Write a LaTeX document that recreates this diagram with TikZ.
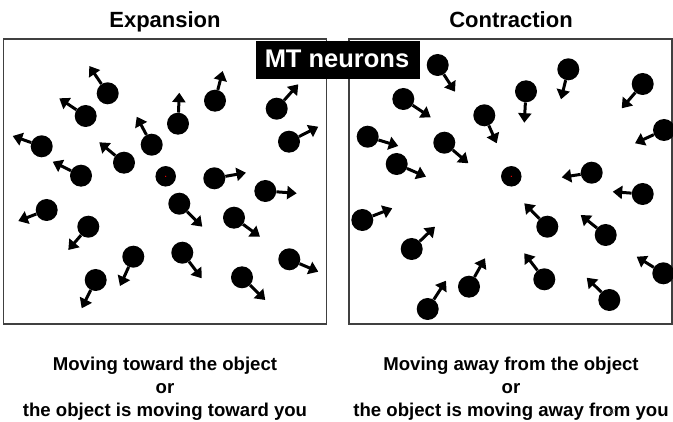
\documentclass[tikz,border=0pt]{standalone}
\usepackage{fontspec}
\setmainfont{Liberation Sans}
\usetikzlibrary{arrows.meta}
\newcommand\motdot[5]{%
  \node[dotnode] (#1) at (#2,#3) {};
  \coordinate (#1t) at (#4,#5);
  \draw[motion] (#1) -- (#1t);}
\begin{document}
\begin{tikzpicture}[x=1pt,y=-1pt,
  dotnode/.style={circle,fill=black,inner sep=0pt,minimum size=22pt},
  fixdot/.style={circle,fill=black,inner sep=0pt,minimum size=20.5pt},
  motion/.style={line width=3pt,-{Triangle[length=9.5pt,width=13pt]}},
  panel/.style={draw=black!75,line width=1.3pt},
  title/.style={font=\fontsize{22}{26}\selectfont\bfseries,anchor=base,inner sep=0pt},
  caption/.style={font=\fontsize{18.6}{23}\selectfont\bfseries,anchor=base,inner sep=0pt},
  label/.style={fill=black,text=white,font=\fontsize{25}{28}\selectfont\bfseries,inner sep=0pt,minimum width=164pt,minimum height=38pt}]
\useasboundingbox (0,0) rectangle (673,422);
\fill[white] (0,0) rectangle (673,422);
% titles
\node[title] (t1) at (165,28) {Expansion};
\node[title] (t2) at (511,28) {Contraction};
% panels
\node[panel,inner sep=0pt,minimum width=323.4pt,minimum height=285pt] (p1) at (165,181.5) {};
\node[panel,inner sep=0pt,minimum width=323pt,minimum height=285pt] (p2) at (510.5,181.5) {};
% ---- expansion dots
\motdot{a1}{107.7}{93.3}{89.3}{66}
\motdot{a2}{85.7}{116}{59.3}{98.3}
\motdot{a3}{41.7}{146.3}{12.7}{136}
\motdot{a4}{81}{175.7}{52.7}{161.7}
\motdot{a5}{124}{162.7}{99.3}{142.3}
\motdot{a6}{151.7}{144.7}{136.7}{116.7}
\motdot{a7}{178}{123.7}{179.3}{92.7}
\motdot{a8}{215}{100.7}{222.7}{71}
\motdot{a9}{276.7}{108.7}{298.3}{84.3}
\motdot{a10}{289}{141.7}{318.3}{126.7}
\motdot{a12}{214.3}{178.3}{246}{172.7}
\motdot{a13}{265.3}{191}{296.7}{193.3}
\motdot{a14}{179.3}{203.7}{202.3}{226.7}
\motdot{a15}{234}{217.7}{260}{236.7}
\motdot{a16}{46.7}{210}{18.3}{221}
\motdot{a17}{88.3}{226.7}{68.3}{250}
\motdot{a18}{133.3}{256.7}{120}{286}
\motdot{a19}{182.3}{252.7}{201.7}{278.3}
\motdot{a20}{95.7}{280}{81.7}{308.3}
\motdot{a21}{242}{277.3}{265.3}{300}
\motdot{a22}{289.3}{259.3}{318.3}{271.7}
\node[fixdot] (a0) at (165.7,176.3) {};
\fill[red] (a0.center) circle[radius=0.7pt];
% ---- contraction dots
\motdot{b1}{437.7}{65}{455}{91.7}
\motdot{b2}{403.3}{99}{430.7}{117.3}
\motdot{b3}{367.7}{136.7}{398.3}{146}
\motdot{b4}{396.7}{164}{426}{176.7}
\motdot{b5}{444.3}{142.7}{468.3}{163.3}
\motdot{b6}{484.3}{115.3}{496.7}{143.3}
\motdot{b7}{526}{91.3}{524.3}{122.7}
\motdot{b8}{568.3}{69.3}{561}{99.3}
\motdot{b9}{642.7}{84}{621.7}{108.3}
\motdot{b10}{664}{130}{635}{143.3}
\motdot{b12}{591.7}{172.7}{561.7}{177.3}
\motdot{b13}{642.7}{194}{612.7}{191.7}
\motdot{b14}{547.3}{226.7}{524.3}{203.3}
\motdot{b15}{605.7}{235}{580.7}{215}
\motdot{b16}{362.3}{220}{392.3}{208.3}
\motdot{b17}{411.7}{249}{435}{226.7}
\motdot{b18}{469}{286.7}{485}{258.3}
\motdot{b19}{544.3}{279.3}{524.3}{253.3}
\motdot{b20}{427.7}{309}{446}{280.7}
\motdot{b21}{609.3}{300}{586.7}{277.7}
\motdot{b22}{663.3}{273.3}{636.7}{256.7}
\node[fixdot] (b0) at (511.3,176.3) {};
\fill[red] (b0.center) circle[radius=0.7pt];
% label
\node[label] (mt) at (338,60) {};
\node[anchor=base,inner sep=0pt,text=white,font=\fontsize{25.5}{28}\selectfont\bfseries] (mtt) at (337,67.5) {MT neurons};
% captions
\node[caption] (c1) at (165,371) {Moving toward the object};
\node[caption] (c2) at (165,394) {or};
\node[caption] (c3) at (165,417) {the object is moving toward you};
\node[caption] (d1) at (511,371) {Moving away from the object};
\node[caption] (d2) at (511,394) {or};
\node[caption] (d3) at (511,417) {the object is moving away from you};
\node[anchor=base,inner sep=0pt,text=black!40,font=\fontsize{7}{8}\selectfont] (pg) at (612,415) {37};
\end{tikzpicture}
\end{document}
